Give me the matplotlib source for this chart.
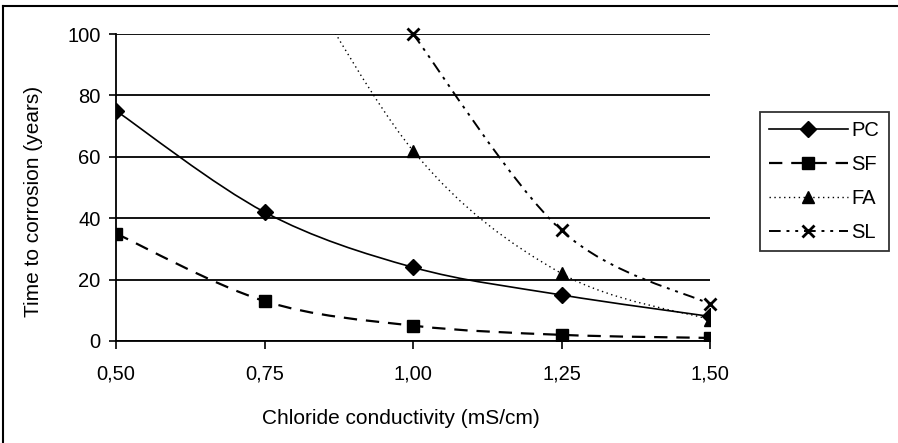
import matplotlib
matplotlib.use('Agg')
import matplotlib.pyplot as plt
from matplotlib.path import Path
from matplotlib.patches import PathPatch
from matplotlib.lines import Line2D

plt.rcParams['font.family'] = ['Liberation Sans', 'DejaVu Sans']

# ── data ──────────────────────────────────────────────────────────
conductivity = [0.50, 0.75, 1.00, 1.25, 1.50]
xtick_labels = ['0,50', '0,75', '1,00', '1,25', '1,50']
pc = [75, 42, 24, 15, 8]
sf = [35, 13, 5, 2, 1]
fa_x = [0.75, 1.00, 1.25, 1.50]
fa = [140, 62, 22, 7]          # first point lies above the axis, clipped
sl_x = [1.00, 1.25, 1.50]
sl = [100, 36, 12]

FS = 14.5


def smooth_path(xs, ys):
    """Excel-style smoothed line as cubic Bezier segments."""
    pts = list(zip(xs, ys))
    verts = [pts[0]]
    codes = [Path.MOVETO]
    n = len(pts)
    for i in range(n - 1):
        p0 = pts[i - 1] if i > 0 else pts[i]
        p1 = pts[i]
        p2 = pts[i + 1]
        p3 = pts[i + 2] if i + 2 < n else pts[i + 1]
        c1 = (p1[0] + (p2[0] - p0[0]) / 6, p1[1] + (p2[1] - p0[1]) / 6)
        c2 = (p2[0] - (p3[0] - p1[0]) / 6, p2[1] - (p3[1] - p1[1]) / 6)
        verts += [c1, c2, p2]
        codes += [Path.CURVE4] * 3
    return Path(verts, codes)


fig = plt.figure(figsize=(8.98, 4.43), dpi=100)
ax = fig.add_axes([116 / 898, 1 - 341 / 443, 594 / 898, 307 / 443])

series = [
    ('PC', conductivity, pc, '-', 1.2, 'D', 8),
    ('SF', conductivity, sf, (0, (6, 4)), 1.6, 's', 8),
    ('FA', fa_x, fa, (0, (1, 2.5)), 1.0, '^', 9),
    ('SL', sl_x, sl, (0, (6, 3, 1.5, 3, 1.5, 3)), 1.4, 'x', 9),
]

handles = []
for name, xs, ys, ls, lw, mk, ms in series:
    ax.add_patch(PathPatch(smooth_path(xs, ys), fill=False, edgecolor='black',
                           linestyle=ls, lw=lw, zorder=3))
    ax.plot(xs, ys, linestyle='none', marker=mk, ms=ms, color='black',
            mew=2 if mk == 'x' else 1, zorder=4, clip_on=(name != 'SL'))
    handles.append(Line2D([], [], color='black', linestyle=ls, lw=lw,
                          marker=mk, ms=ms, mew=2 if mk == 'x' else 1))

ax.set_xlim(0.5, 1.5)
ax.set_ylim(0, 100)
ax.set_xticks(conductivity)
ax.set_xticklabels(xtick_labels)
ax.set_yticks(range(0, 101, 20))
ax.tick_params(axis='both', labelsize=FS, color='black', width=1.2)
ax.tick_params(axis='x', length=6, pad=11)
ax.tick_params(axis='y', length=5, pad=6)
ax.yaxis.grid(True, color='black', lw=1.3)
ax.set_axisbelow(True)
for s in ['top', 'right']:
    ax.spines[s].set_visible(False)
ax.spines['left'].set_linewidth(1.3)
ax.spines['bottom'].set_linewidth(1.3)

fig.text(401 / 898, 1 - 418 / 443, 'Chloride conductivity (mS/cm)',
         ha='center', va='center', fontsize=15)
fig.text(34 / 898, 1 - 201 / 443, 'Time to corrosion (years)',
         ha='center', va='center', rotation=90, fontsize=15)

leg = fig.legend(handles, ['PC', 'SF', 'FA', 'SL'], loc='upper left',
                 bbox_to_anchor=(760 / 898, 1 - 112 / 443), fontsize=FS,
                 handlelength=3.9, handletextpad=0.2, labelspacing=0.75,
                 borderpad=0.45, borderaxespad=0, fancybox=False, frameon=True)
leg.get_frame().set_edgecolor('black')
leg.get_frame().set_linewidth(1.3)

# outer chart border (left and top edges visible in the scan)
fig.add_artist(Line2D([3 / 898, 3 / 898], [0, 1 - 6 / 443], color='black', lw=1.5))
fig.add_artist(Line2D([3 / 898, 1], [1 - 6 / 443, 1 - 6 / 443], color='black', lw=1.5))

fig.savefig('out.png', dpi=100)
